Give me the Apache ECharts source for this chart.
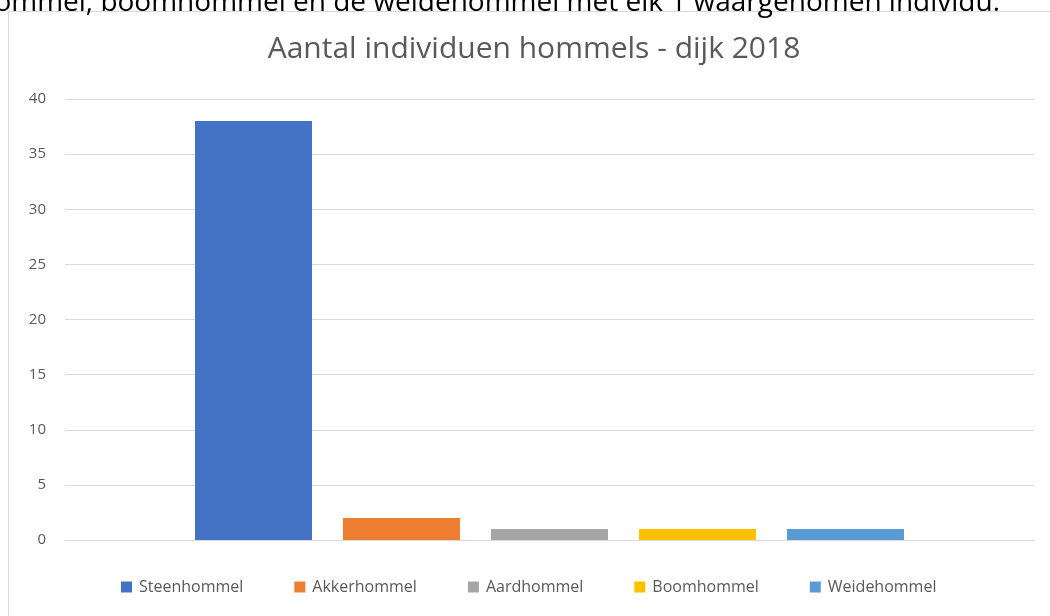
<!DOCTYPE html>
<html><head><meta charset="utf-8">
<script src="https://cdn.jsdelivr.net/npm/echarts@6/dist/echarts.min.js"></script>
<style>html,body{margin:0;padding:0;background:#fff}#c{width:1050px;height:616px}</style>
</head><body><div id="c"></div>
<script>
const categories = [''];
const seriesNames = ['Steenhommel', 'Akkerhommel', 'Aardhommel', 'Boomhommel', 'Weidehommel'];
const seriesValues = [[38], [2], [1], [1], [1]];
const colors = ['#4472C4', '#ED7D31', '#A5A5A5', '#FFC000', '#5B9BD5'];
const titleText = 'Aantal individuen hommels - dijk 2018';
const topText = 'aardhommel, boomhommel en de weidehommel met elk 1 waargenomen individu.';

const chart = echarts.init(document.getElementById('c'), null, {renderer: 'canvas'});
const font = "'Open Sans', 'Noto Sans', sans-serif";
chart.setOption({
  animation: false,
  color: colors,
  title: {
    text: titleText, left: 529, textAlign: 'center', top: 29,
    textStyle: {fontFamily: font, fontSize: 30, fontWeight: 'normal', color: '#595959'}
  },
  graphic: [
    {type: 'rect', shape: {x: 8.5, y: 11.5, width: 1100, height: 700}, style: {fill: 'none', stroke: '#d9d9d9', lineWidth: 1}, z: -1},
    {type: 'text', x: 1000, y: -11, style: {text: topText, textAlign: 'right', fontFamily: font, fontSize: 28, fill: '#000'}}
  ],
  legend: {
    bottom: 16, left: 116, itemWidth: 11, itemHeight: 11, itemGap: 51,
    icon: 'rect',
    textStyle: {fontFamily: font, fontSize: 16, color: '#595959', padding: [0, 0, 0, 2]},
    data: seriesNames
  },
  grid: {left: 65, right: 16, top: 99, bottom: 76},
  xAxis: {
    type: 'category', data: categories,
    axisLine: {lineStyle: {color: '#d9d9d9'}}, axisTick: {show: false}, axisLabel: {show: false}
  },
  yAxis: {
    type: 'value', min: 0, max: 40, interval: 5,
    axisLine: {show: false}, axisTick: {show: false},
    axisLabel: {fontFamily: font, fontSize: 15, color: '#595959', margin: 19},
    splitLine: {lineStyle: {color: '#d9d9d9'}}
  },
  series: seriesNames.map((n, i) => ({
    name: n, type: 'bar', data: seriesValues[i], barWidth: 117, barGap: '26.5%'
  }))
});
</script></body></html>
